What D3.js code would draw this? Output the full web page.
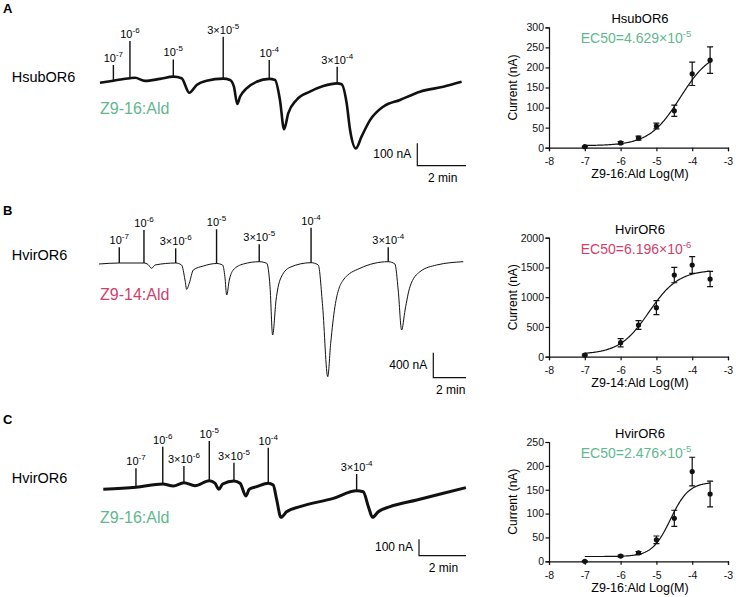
<!DOCTYPE html>
<html>
<head>
<meta charset="utf-8">
<script src="https://cdn.jsdelivr.net/npm/d3@7"></script>
<style>
  body { margin: 0; background: #fff; }
  svg { font-family: "Liberation Sans", Arial, Helvetica, sans-serif; }
</style>
</head>
<body>
<svg id="fig" width="736" height="597"></svg>
<script>
// ---- dose-response data (log M, mean nA, sem nA) ----
const logConc = [-7, -6, -5.5, -5, -4.5, -4, -3.5];
const hsubZ916Mean = [2.5, 12, 24, 54, 92, 184, 218];
const hsubZ916Sem = [1, 3, 5, 7, 14, 29, 33];
const hvirZ914Mean = [28, 235, 532, 824, 1372, 1541, 1305];
const hvirZ914Sem = [15, 70, 73, 117, 129, 140, 128];
const hvirZ916Mean = [0, 11, 17.5, 45, 90, 188, 141];
const hvirZ916Sem = [1, 2, 3, 8, 17, 30, 27];

// fitted Hill parameters: bottom, top, EC50, slope
const fitBottom = [5, 40, 10];
const fitTop = [245, 1460, 166];
const fitEC50 = [4.629e-5, 6.196e-6, 2.476e-5];
const fitSlope = [1.0, 1.05, 1.7];
const ec50Mantissa = ['4.629', '6.196', '2.476'];
const ec50Exp = ['-5', '-6', '-5'];

// ---- current traces (time min, current nA) ----
const traceA_t = [0, 0.55, 1.23, 1.44, 1.85, 2.46, 3.01, 3.35, 3.67, 3.97, 4.38, 5.06, 5.34, 5.50, 5.64, 5.75, 6.02, 6.43, 6.95, 7.19, 7.39, 7.56, 7.73, 8.07, 8.62, 9.17, 9.74, 9.92, 10.13, 10.27, 10.51, 10.74, 11.09, 11.63, 12.32, 13.14, 14.10, 14.85];
const traceA_nA = [0, 9, 20, 22, 8, 17, 27, 20, -45, -10, 9, 18, 12, -18, -95, -63, -25, 4, 17, 12, -77, -208, -137, -77, -40, -15, -3, -7, -92, -211, -293, -241, -167, -107, -77, -40, -18, 4];
const stimA_t = [0.55, 1.23, 3.01, 5.06, 6.95, 9.74];
const stimA_top = [79, 186, 104, 205, 101, 71];
const stimA_label = ['10^-7', '10^-6', '10^-5', '3×10^-5', '10^-4', '3×10^-4'];

const traceB_t = [0, 1.24, 2.75, 3.0, 3.22, 3.43, 4.69, 5.05, 5.26, 5.36, 5.52, 5.77, 6.38, 7.19, 7.56, 7.70, 7.81, 7.97, 8.21, 8.83, 9.80, 10.26, 10.46, 10.62, 10.83, 11.07, 11.68, 12.97, 13.41, 13.68, 13.99, 14.17, 14.43, 14.94, 15.96, 17.69, 18.10, 18.30, 18.51, 18.72, 19.02, 19.63, 20.65, 22.28];
const traceB_nA = [0, 16, 16, -8, -69, -16, 16, -16, -256, -405, -309, -96, -32, 8, -16, -203, -496, -256, -96, 0, 37, 11, -363, -1136, -576, -256, -53, 21, -16, -683, -1803, -1269, -683, -256, -69, 37, 0, -416, -1056, -736, -363, -123, -16, 37];
const stimB_t = [1.24, 2.75, 4.69, 7.19, 9.80, 12.97, 17.69];
const stimB_top = [267, 544, 251, 555, 315, 581, 267];
const stimB_label = ['10^-7', '10^-6', '3×10^-6', '10^-5', '3×10^-5', '10^-4', '3×10^-4'];

const traceC_t = [0, 1.39, 2.53, 2.98, 3.43, 3.90, 4.51, 4.75, 4.92, 5.08, 5.56, 5.82, 6.07, 6.21, 6.53, 7.02, 7.23, 7.38, 7.56, 7.80, 8.37, 9.79, 10.78, 11.06, 11.28, 11.46, 11.70, 12.20, 13.34, 14.47, 15.43];
const traceC_nA = [0, 12, 32, 20, 40, 22, 52, 37, 0, 32, 51, 37, -41, 0, 16, 37, 26, -65, -171, -137, -106, -55, -9, -15, -106, -171, -137, -106, -65, -24, 10];
const stimC_t = [1.39, 2.53, 3.43, 4.51, 5.56, 7.02, 10.78];
const stimC_top = [128, 260, 142, 295, 162, 254, 93];
const stimC_label = ['10^-7', '10^-6', '3×10^-6', '10^-5', '3×10^-5', '10^-4', '3×10^-4'];

const green = '#63b78e';
const pink = '#cf3f6b';

const svg = d3.select('#fig');

// ---------- traces ----------
function drawTrace(o) {
  const x = d3.scaleLinear()
    .domain([0, 1])
    .range([o.x0, o.x0 + o.pxPerMin]);
  const y = d3.scaleLinear()
    .domain([0, 1])
    .range([o.y0, o.y0 - o.pxPerNA]);
  const g = svg.append('g');
  const pts = o.t.map((d, i) => [d, o.nA[i]]);

  g.append('path')
    .datum(pts)
    .attr('fill', 'none')
    .attr('stroke', '#111')
    .attr('stroke-width', o.width)
    .attr('stroke-linejoin', 'round')
    .attr('d', d3.line().x(d => x(d[0])).y(d => y(d[1])).curve(d3.curveMonotoneX));

  // stimulus markers
  o.stimT.forEach((t, i) => {
    const k = o.t.indexOf(t);
    const base = o.nA[k];
    g.append('line')
      .attr('x1', x(t)).attr('x2', x(t))
      .attr('y1', y(base)).attr('y2', y(o.stimTop[i]))
      .attr('stroke', '#111').attr('stroke-width', 1.4);
    const parts = o.stimLabel[i].split('^');
    const txt = g.append('text')
      .attr('x', x(t)).attr('y', y(o.stimTop[i]) - 3)
      .attr('text-anchor', 'middle')
      .attr('fill', '#000')
      .attr('font-size', 11);
    txt.append('tspan').text(parts[0]);
    txt.append('tspan').attr('dy', -5).attr('font-size', 8).text(parts[1]);
  });

  // left labels
  svg.append('text').attr('x', 3).attr('y', o.letterY)
    .attr('font-size', 13).attr('font-weight', 'bold').text(o.letter);
  svg.append('text').attr('x', 11.7).attr('y', o.nameY)
    .attr('font-size', 14.5).text(o.name);
  svg.append('text').attr('x', 100).attr('y', o.odorY)
    .attr('font-size', 16).attr('fill', o.odorColor).text(o.odor);

  // scale bar
  const cx = o.barX, cy = o.barY;
  const vLen = y(0) - y(o.barNA);
  const hLen = x(2) - x(0);
  g.append('path')
    .attr('d', `M${cx},${cy - vLen}V${cy}H${cx + hLen}`)
    .attr('fill', 'none').attr('stroke', '#111').attr('stroke-width', 1.2);
  g.append('text').attr('x', cx - 6).attr('y', cy - vLen / 2 + 3.5)
    .attr('text-anchor', 'end').attr('font-size', 12).text(o.barNA + ' nA');
  g.append('text').attr('x', cx + hLen / 2 + 1).attr('y', cy + 16)
    .attr('text-anchor', 'middle').attr('font-size', 12).text('2 min');
}

drawTrace({
  t: traceA_t, nA: traceA_nA, stimT: stimA_t, stimTop: stimA_top, stimLabel: stimA_label,
  x0: 100, pxPerMin: 24.35, y0: 82.7, pxPerNA: 0.224, width: 2.6,
  letter: 'A', letterY: 13, name: 'HsubOR6', nameY: 81.7,
  odor: 'Z9-16:Ald', odorY: 114, odorColor: green,
  barX: 417.3, barY: 165.7, barNA: 100
});
drawTrace({
  t: traceB_t, nA: traceB_nA, stimT: stimB_t, stimTop: stimB_top, stimLabel: stimB_label,
  x0: 99, pxPerMin: 16.35, y0: 264, pxPerNA: 0.0625, width: 1.0,
  letter: 'B', letterY: 215, name: 'HvirOR6', nameY: 260,
  odor: 'Z9-14:Ald', odorY: 300, odorColor: pink,
  barX: 433.3, barY: 377.7, barNA: 400
});
drawTrace({
  t: traceC_t, nA: traceC_nA, stimT: stimC_t, stimTop: stimC_top, stimLabel: stimC_label,
  x0: 103.3, pxPerMin: 23.5, y0: 489.3, pxPerNA: 0.164, width: 3,
  letter: 'C', letterY: 424, name: 'HvirOR6', nameY: 482.7,
  odor: 'Z9-16:Ald', odorY: 523.3, odorColor: green,
  barX: 419, barY: 555.7, barNA: 100
});

// ---------- dose-response plots ----------
function drawDose(o, idx) {
  const x = d3.scaleLinear().domain([-8, -3]).range([549, 728]);
  const y = d3.scaleLinear().domain([0, o.yMax]).range([o.yBottom, o.yTop]);
  const g = svg.append('g');

  const xAxis = g.append('g')
    .attr('transform', `translate(0,${o.yBottom})`)
    .call(d3.axisBottom(x).ticks(5).tickSize(3.5).tickFormat(d => String(d)));
  const yAxis = g.append('g')
    .attr('transform', 'translate(549,0)')
    .call(d3.axisLeft(y).tickValues(d3.range(0, o.yMax + 1, o.yStep)).tickSize(3.5).tickFormat(d => String(d)));
  [xAxis, yAxis].forEach(a => {
    a.select('.domain').attr('stroke', '#111').attr('stroke-width', 1.2);
    a.selectAll('.tick line').attr('stroke', '#111').attr('stroke-width', 1.2);
    a.selectAll('.tick text').attr('font-size', 10.5).attr('fill', '#111')
      .attr('font-family', '"Liberation Sans", Arial, sans-serif');
  });
  xAxis.selectAll('.tick text').attr('dy', '1.05em');
  yAxis.selectAll('.tick text').attr('x', -5);

  // fitted curve
  const logEC = Math.log10(fitEC50[idx]);
  const curveX = d3.range(-7, -3.5 + 1e-9, 0.02);
  const hill = v => fitBottom[idx] + (fitTop[idx] - fitBottom[idx]) / (1 + Math.pow(10, (logEC - v) * fitSlope[idx]));
  g.append('path')
    .datum(curveX)
    .attr('fill', 'none').attr('stroke', '#111').attr('stroke-width', 1.2)
    .attr('d', d3.line().x(d => x(d)).y(d => y(hill(d))));

  // error bars
  logConc.forEach((c, i) => {
    const m = o.mean[i], s = o.sem[i];
    g.append('path')
      .attr('d', `M${x(c)},${y(m - s)}V${y(m + s)}M${x(c) - 3},${y(m + s)}H${x(c) + 3}M${x(c) - 3},${y(m - s)}H${x(c) + 3}`)
      .attr('stroke', '#111').attr('stroke-width', 1.2).attr('fill', 'none');
  });
  g.selectAll('circle.pt')
    .data(logConc)
    .enter().append('circle')
    .attr('cx', d => x(d))
    .attr('cy', (d, i) => y(o.mean[i]))
    .attr('r', 2.6)
    .attr('fill', '#111');

  g.append('text').attr('x', 640).attr('y', o.yTop - 4)
    .attr('text-anchor', 'middle').attr('font-size', 13).text(o.title);
  const ec = g.append('text').attr('x', 636).attr('y', o.yTop + 16)
    .attr('text-anchor', 'middle').attr('font-size', 14).attr('fill', o.color);
  ec.append('tspan').text('EC50=' + ec50Mantissa[idx] + '×10');
  ec.append('tspan').attr('dy', -6).attr('font-size', 9.5).text(ec50Exp[idx]);

  g.append('text')
    .attr('transform', `translate(517,${(o.yTop + o.yBottom) / 2}) rotate(-90)`)
    .attr('text-anchor', 'middle').attr('font-size', 12).text('Current (nA)');
  g.append('text').attr('x', 640).attr('y', o.yBottom + 30.5)
    .attr('text-anchor', 'middle').attr('font-size', 12.5).text(o.xLabel);
}

drawDose({ mean: hsubZ916Mean, sem: hsubZ916Sem, yMax: 300, yStep: 50, yBottom: 147.7, yTop: 27.3,
  title: 'HsubOR6', color: green, xLabel: 'Z9-16:Ald Log(M)' }, 0);
drawDose({ mean: hvirZ914Mean, sem: hvirZ914Sem, yMax: 2000, yStep: 500, yBottom: 356.7, yTop: 237.7,
  title: 'HvirOR6', color: pink, xLabel: 'Z9-14:Ald Log(M)' }, 1);
drawDose({ mean: hvirZ916Mean, sem: hvirZ916Sem, yMax: 250, yStep: 50, yBottom: 561.3, yTop: 442,
  title: 'HvirOR6', color: green, xLabel: 'Z9-16:Ald Log(M)' }, 2);
</script>
</body>
</html>
